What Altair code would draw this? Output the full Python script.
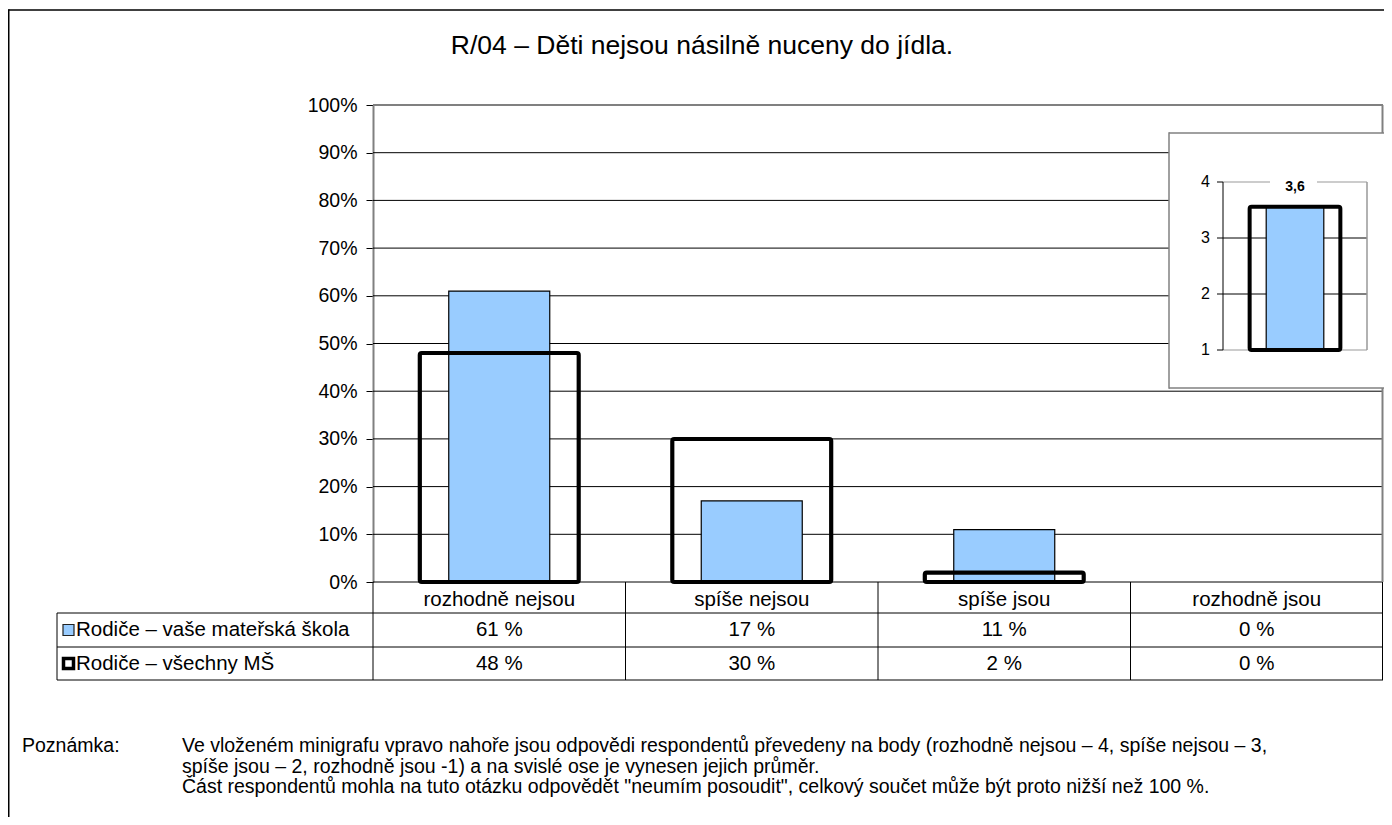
import altair as alt
import pandas as pd

TITLE = "R/04 – Děti nejsou násilně nuceny do jídla."
CATS = ["rozhodně nejsou", "spíše nejsou", "spíše jsou", "rozhodně jsou"]
MINE = [61, 17, 11, 0]
ALLMS = [48, 30, 2, 0]
SERIES = ["Rodiče – vaše mateřská škola", "Rodiče – všechny MŠ"]
Y_TICKS = [0, 10, 20, 30, 40, 50, 60, 70, 80, 90, 100]
MEAN_KEY = ["průměr"]
MEAN = [3.56]
INSET_MIN, INSET_MAX = 1, 4
INSET_TICKS = [1, 2, 3, 4]
NOTE_HEAD = "Poznámka:"
NOTE_LINES = [
    "Ve vloženém minigrafu vpravo nahoře jsou odpovědi respondentů převedeny na body (rozhodně nejsou – 4, spíše nejsou – 3,",
    "spíše jsou – 2, rozhodně jsou -1) a na svislé ose je vynesen jejich průměr.",
    "Část respondentů mohla na tuto otázku odpovědět \"neumím posoudit\", celkový součet může být proto nižší než 100 %.",
]

BLUE = "#99CCFF"
FONT = "Liberation Sans"
W, H = 1010, 477
FS_TITLE, FS_AXIS, FS_TABLE, FS_NOTE, FS_INSET, FS_VAL = 26.5, 19.5, 20.5, 19.5, 16, 14

df = pd.DataFrame({"cat": CATS, "mine": MINE, "allms": ALLMS})
dgrid = pd.DataFrame({"g": Y_TICKS})
dmean = pd.DataFrame({"k": MEAN_KEY, "mean": MEAN, "base": [INSET_MIN], "top": [INSET_MAX]})
dticks = pd.DataFrame({"t": INSET_TICKS})
ONE = alt.Data(values=[{"a": 1}])


def hline(y, x1, x2, color="black", w=1.0):
    return alt.Chart(ONE).mark_rule(color=color, strokeWidth=w).encode(
        x=alt.value(x1), x2=alt.value(x2), y=alt.value(y))


def vline(x, y1, y2, color="black", w=1.0):
    return alt.Chart(ONE).mark_rule(color=color, strokeWidth=w).encode(
        x=alt.value(x), y=alt.value(y1), y2=alt.value(y2))


def label(txt, x, y, size, align="left", weight="normal"):
    return alt.Chart(ONE).mark_text(text=txt, fontSize=size, align=align, baseline="middle",
                                    fontWeight=weight, color="black", font=FONT).encode(
        x=alt.value(x), y=alt.value(y))


main_x = alt.X("cat:N", sort=CATS, axis=None,
               scale=alt.Scale(domain=CATS, paddingInner=0, paddingOuter=0))
y_axis = alt.Axis(values=Y_TICKS, labelExpr="datum.value + '%'", title="", orient="left",
                  labelFontSize=FS_AXIS, labelColor="black", labelPadding=9, labelFont=FONT,
                  tickSize=7, tickColor="black", tickWidth=1,
                  domainColor="#808080", domainWidth=2, grid=False)
y_scale = alt.Scale(domain=[0, 100])

# outer frame (left and top edges; the others fall outside the picture)
frame = [hline(-95, -364.5, 1011, w=1.5), vline(-364.25, -95.75, 720, w=1.5)]

title = label(TITLE, 329, -59, FS_TITLE, align="center")

grid = alt.Chart(dgrid).mark_rule().encode(
    x=alt.value(0), x2=alt.value(W),
    y=alt.Y("g:Q", scale=y_scale, axis=y_axis),
    color=alt.condition("datum.g == 100", alt.value("#808080"), alt.value("black")),
    strokeWidth=alt.condition("datum.g == 100", alt.value(2), alt.value(1)))
right_border_top = vline(W - 0.5, 0, 28, color="#808080", w=2)
right_border_bottom = vline(W - 0.5, 283, H, color="#808080", w=2)

blue = alt.Chart(df).transform_filter("datum.mine > 0").mark_bar(
    color=BLUE, stroke="black", strokeWidth=1.2, width={"band": 0.4}).encode(
    x=main_x, y=alt.Y("mine:Q", scale=y_scale, axis=y_axis))

outline = alt.Chart(df).transform_filter("datum.allms > 0").mark_bar(
    filled=False, color="black", strokeWidth=4, strokeJoin="round", cornerRadius=2,
    width={"band": 0.63}).encode(
    x=main_x, y=alt.Y("allms:Q", scale=y_scale, axis=y_axis))

# table
TL = -316
table_lines = [
    hline(508, TL, W), hline(542, TL, W), hline(575, TL, W),
    vline(TL, 508, 575), vline(0, 477, 575),
    vline(W * 0.25, 477, 575), vline(W * 0.5, 477, 575), vline(W * 0.75, 477, 575),
    vline(W - 0.5, 477, 575),
]
cat_text = alt.Chart(df).mark_text(fontSize=FS_TABLE, font=FONT, color="black", baseline="middle").encode(
    x=main_x, y=alt.value(495), text="cat:N")
mine_text = alt.Chart(df).transform_calculate(lab="datum.mine + ' %'").mark_text(
    fontSize=FS_TABLE, font=FONT, color="black", baseline="middle").encode(
    x=main_x, y=alt.value(525), text="lab:N")
all_text = alt.Chart(df).transform_calculate(lab="datum.allms + ' %'").mark_text(
    fontSize=FS_TABLE, font=FONT, color="black", baseline="middle").encode(
    x=main_x, y=alt.value(558.5), text="lab:N")
leg1_sym = alt.Chart(ONE).mark_rect(fill=BLUE, stroke="#222", strokeWidth=1.2).encode(
    x=alt.value(-310), x2=alt.value(-299), y=alt.value(519.5), y2=alt.value(530.5))
leg2_sym = alt.Chart(ONE).mark_rect(fill="white", stroke="black", strokeWidth=3.5).encode(
    x=alt.value(-309.5), x2=alt.value(-299.5), y=alt.value(553.5), y2=alt.value(563.5))
leg1 = label(SERIES[0], -297, 525, FS_TABLE)
leg2 = label(SERIES[1], -297, 558.5, FS_TABLE)

note = [label(NOTE_HEAD, -351, 641, FS_NOTE)] + [
    label(t, -191, 641 + i * 20.5, FS_NOTE) for i, t in enumerate(NOTE_LINES)]

main_layer = alt.layer(*frame, title, grid, right_border_top, right_border_bottom, *table_lines,
                       blue, outline, cat_text, mine_text, all_text,
                       leg1_sym, leg2_sym, leg1, leg2, *note)

# inset
ix = alt.X("k:N", axis=None, scale=alt.Scale(domain=MEAN_KEY, range=[850, 994], paddingInner=0, paddingOuter=0))
iy_scale = alt.Scale(domain=[INSET_MIN, INSET_MAX], range=[245, 77], zero=False)

inset_fill = alt.Chart(ONE).mark_rect(fill="white").encode(
    x=alt.value(796), x2=alt.value(1030), y=alt.value(28), y2=alt.value(283))
inset_edges = [hline(28, 796, 1030, color="#808080", w=1.5),
               hline(283, 796, 1030, color="#808080", w=1.5),
               vline(796, 27.25, 283.75, color="#808080", w=1.5)]
igrid = alt.Chart(dticks).mark_rule(strokeWidth=1).encode(
    x=alt.value(850), x2=alt.value(994),
    y=alt.Y("t:Q", scale=iy_scale, axis=None),
    color=alt.condition("datum.t == 1 || datum.t == 4", alt.value("#999999"), alt.value("black")))
iticks = alt.Chart(dticks).mark_rule(color="black", strokeWidth=1).encode(
    x=alt.value(844), x2=alt.value(850), y=alt.Y("t:Q", scale=iy_scale, axis=None))
ilabels = alt.Chart(dticks).mark_text(fontSize=FS_INSET, font=FONT, align="right", baseline="middle", color="black").encode(
    x=alt.value(837), y=alt.Y("t:Q", scale=iy_scale, axis=None), text="t:Q")
iright = alt.Chart(dmean).mark_rule(color="#999999", strokeWidth=1.5).encode(
    x=alt.value(994), y=alt.Y("top:Q", scale=iy_scale, axis=None), y2="base:Q")
ileft = alt.Chart(dmean).mark_rule(color="black", strokeWidth=1).encode(
    x=alt.value(850), y=alt.Y("top:Q", scale=iy_scale, axis=None), y2="base:Q")
iblue = alt.Chart(dmean).mark_bar(color=BLUE, stroke="black", strokeWidth=1.2, width={"band": 0.4}).encode(
    x=ix, y=alt.Y("mean:Q", scale=iy_scale, axis=None), y2="base:Q")
iout = alt.Chart(dmean).mark_bar(filled=False, color="black", strokeWidth=4, strokeJoin="round",
                                 cornerRadius=2, width={"band": 0.63}).encode(
    x=ix, y=alt.Y("mean:Q", scale=iy_scale, axis=None), y2="base:Q")
gap = alt.Chart(ONE).mark_rect(fill="white").encode(
    x=alt.value(897), x2=alt.value(944), y=alt.value(73), y2=alt.value(81))
ival = alt.Chart(dmean).transform_calculate(
    lab="replace(format(datum.mean, '.1f'), '.', ',')").mark_text(
    fontSize=FS_VAL, fontWeight="bold", font=FONT, color="black", baseline="middle", dy=5).encode(
    x=ix, y=alt.Y("top:Q", scale=iy_scale, axis=None), text="lab:N")

inset_layer = alt.layer(inset_fill, *inset_edges, igrid, iticks, ilabels, iright, ileft,
                        iblue, iout, gap, ival)

chart = alt.layer(main_layer, inset_layer).resolve_scale(
    x="independent", y="independent"
).properties(
    width=W, height=H,
    autosize=alt.AutoSizeParams(type="none"),
    padding={"left": 365, "top": 97, "right": 1, "bottom": 235},
).configure(font=FONT).configure_view(stroke="transparent", strokeWidth=0).configure_axisRight(
    domain=False, ticks=False, labels=False, grid=False
).configure_axisX(domain=False, ticks=False, labels=False, grid=False)

chart.save("out.html", embed_options={"renderer": "svg", "actions": False})
